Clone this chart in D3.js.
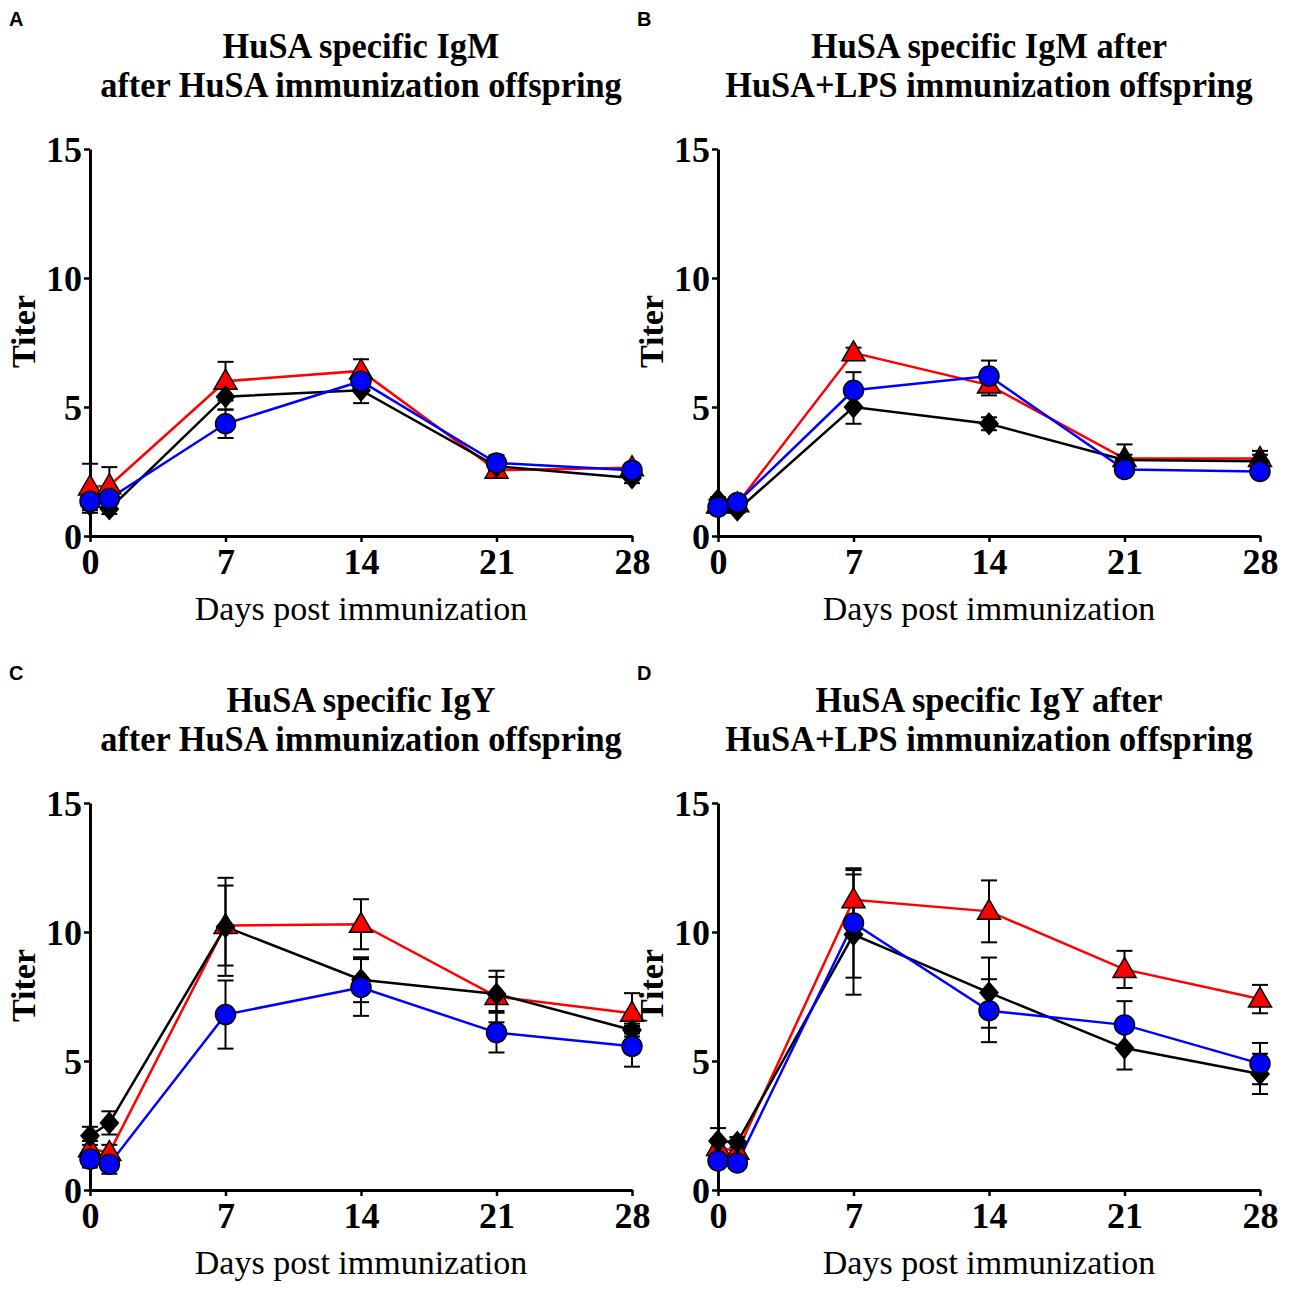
<!DOCTYPE html>
<html>
<head>
<meta charset="utf-8">
<script src="https://cdn.jsdelivr.net/npm/d3@7"></script>
<style>
  body { margin: 0; background: #fff; }
  svg { display: block; }
</style>
</head>
<body>
<div id="chart"></div>
<script>
// días de muestreo
const days = [0, 1, 7, 14, 21, 28];
const dayTicks = [0, 7, 14, 21, 28];
const titerTicks = [0, 5, 10, 15];

// Panel A: IgM, HuSA
const igmHusaRed = [1.9, 1.95, 6.0, 6.4, 2.55, 2.65];
const igmHusaRedErr = [0.9, 0.72, 0.75, 0.45, 0.3, 0.15];
const igmHusaBlack = [1.2, 1.05, 5.4, 5.65, 2.7, 2.25];
const igmHusaBlackErr = [0.3, 0.2, 0.5, 0.5, 0.3, 0.2];
const igmHusaBlue = [1.35, 1.45, 4.35, 6.0, 2.83, 2.55];
const igmHusaBlueErr = [0.2, 0.2, 0.55, 0.3, 0.3, 0.15];

// Panel B: IgM, HuSA+LPS
const igmLpsRed = [1.2, 1.25, 7.1, 5.85, 3.0, 3.0];
const igmLpsRedErr = [0.1, 0.1, 0.2, 0.4, 0.15, 0.15];
const igmLpsBlack = [1.4, 1.0, 5.0, 4.35, 2.95, 2.9];
const igmLpsBlackErr = [0.1, 0.1, 0.65, 0.25, 0.6, 0.4];
const igmLpsBlue = [1.12, 1.3, 5.65, 6.2, 2.58, 2.5];
const igmLpsBlueErr = [0.1, 0.1, 0.7, 0.6, 0.1, 0.1];

// Panel C: IgY, HuSA
const igyHusaRed = [1.6, 1.45, 10.25, 10.3, 7.5, 6.85];
const igyHusaRedErr = [0.3, 0.3, 1.55, 0.97, 1.0, 0.78];
const igyHusaBlack = [2.1, 2.6, 10.2, 8.15, 7.6, 6.2];
const igyHusaBlackErr = [0.35, 0.45, 1.9, 0.87, 0.66, 0.25];
const igyHusaBlue = [1.2, 1.0, 6.8, 7.85, 6.1, 5.57];
const igyHusaBlueErr = [0.33, 0.37, 1.32, 1.1, 0.77, 0.79];

// Panel D: IgY, HuSA+LPS
const igyLpsRed = [1.65, 1.5, 11.25, 10.8, 8.55, 7.4];
const igyLpsRedErr = [0.3, 0.3, 1.15, 1.2, 0.72, 0.55];
const igyLpsBlack = [1.9, 1.85, 9.9, 7.65, 5.5, 4.5];
const igyLpsBlackErr = [0.5, 0.2, 2.33, 1.36, 0.83, 0.78];
const igyLpsBlue = [1.13, 1.05, 10.35, 6.95, 6.4, 4.9];
const igyLpsBlueErr = [0.2, 0.15, 2.12, 1.22, 0.92, 0.8];

const panelLetters = ['A', 'B', 'C', 'D'];
const panelTitles = [
  ['HuSA specific IgM', 'after HuSA immunization offspring'],
  ['HuSA specific IgM after', 'HuSA+LPS immunization offspring'],
  ['HuSA specific IgY', 'after HuSA immunization offspring'],
  ['HuSA specific IgY after', 'HuSA+LPS immunization offspring']
];
const xLabel = 'Days post immunization';
const yLabel = 'Titer';

const panelSeries = [
  [[igmHusaRed, igmHusaRedErr], [igmHusaBlack, igmHusaBlackErr], [igmHusaBlue, igmHusaBlueErr]],
  [[igmLpsRed, igmLpsRedErr], [igmLpsBlack, igmLpsBlackErr], [igmLpsBlue, igmLpsBlueErr]],
  [[igyHusaRed, igyHusaRedErr], [igyHusaBlack, igyHusaBlackErr], [igyHusaBlue, igyHusaBlueErr]],
  [[igyLpsRed, igyLpsRedErr], [igyLpsBlack, igyLpsBlackErr], [igyLpsBlue, igyLpsBlueErr]]
];
// orden de dibujo: rojo, negro, azul (azul queda encima)
const seriesStyle = [
  { color: '#ff0000', shape: 'triangle' },
  { color: '#000000', shape: 'diamond' },
  { color: '#0000ff', shape: 'circle' }
];

const width = 1295;
const height = 1289;
const serif = '"Liberation Serif", "Times New Roman", serif';

const svg = d3.select('#chart').append('svg')
  .attr('width', width)
  .attr('height', height);

// posiciones de cada panel (origen del área de trazado)
const panels = [
  { left: 90, top: 149 },
  { left: 718, top: 149 },
  { left: 90, top: 803 },
  { left: 718, top: 803 }
];
const plotW = 542;
const plotH = 387;

function markerPath(shape) {
  if (shape === 'triangle') {
    return 'M0,-12L11.5,8L-11.5,8Z';
  }
  if (shape === 'diamond') {
    return 'M0,-10.5L9,0L0,10.5L-9,0Z';
  }
  return null;
}

function dibujarPanel(i) {
  const p = panels[i];
  const g = svg.append('g').attr('transform', `translate(${p.left},${p.top})`);

  const x = d3.scaleLinear().domain([0, 28]).range([0, plotW]);
  const y = d3.scaleLinear().domain([0, 15]).range([plotH, 0]);

  // letra del panel
  svg.append('text')
    .attr('x', p.left - 81)
    .attr('y', p.top - 123)
    .style('font-family', '"Liberation Sans", Arial, sans-serif')
    .style('font-weight', 'bold')
    .style('font-size', '20px')
    .text(panelLetters[i]);

  // título en dos líneas (letra algo estrecha, como en el original)
  panelTitles[i].forEach((line, k) => {
    g.append('text')
      .attr('transform', `translate(${plotW / 2},${-91 + k * 39}) scale(0.955,1)`)
      .attr('text-anchor', 'middle')
      .style('font-family', serif)
      .style('font-weight', 'bold')
      .style('font-size', '36px')
      .text(line);
  });

  // ejes
  const xAxis = g.append('g')
    .attr('transform', `translate(0,${plotH})`)
    .call(d3.axisBottom(x).tickValues(dayTicks).tickSize(6).tickSizeOuter(0).tickPadding(4));
  const yAxis = g.append('g')
    .call(d3.axisLeft(y).tickValues(titerTicks).tickSize(6).tickSizeOuter(0).tickPadding(2));

  [xAxis, yAxis].forEach(ax => {
    ax.select('.domain').attr('stroke', '#000').attr('stroke-width', 3);
    ax.selectAll('.tick line').attr('stroke', '#000').attr('stroke-width', 2.5);
    ax.selectAll('.tick text')
      .attr('fill', '#000')
      .style('font-family', serif)
      .style('font-weight', 'bold')
      .style('font-size', '36px');
  });
  yAxis.selectAll('.tick text').attr('dy', '0.34em');
  xAxis.selectAll('.tick text').attr('dy', '0.78em');

  // etiquetas de ejes
  g.append('text')
    .attr('x', plotW / 2)
    .attr('y', plotH + 84)
    .attr('text-anchor', 'middle')
    .style('font-family', serif)
    .style('font-size', '34px')
    .text(xLabel);

  g.append('text')
    .attr('transform', `translate(-55,${plotH / 2 - 11}) rotate(-90)`)
    .attr('text-anchor', 'middle')
    .style('font-family', serif)
    .style('font-weight', 'bold')
    .style('font-size', '34px')
    .text(yLabel);

  const line = d3.line()
    .x((d, j) => x(days[j]))
    .y(d => y(d));

  const series = panelSeries[i];

  // líneas
  series.forEach((s, k) => {
    g.append('path')
      .datum(s[0])
      .attr('d', line)
      .attr('fill', 'none')
      .attr('stroke', seriesStyle[k].color)
      .attr('stroke-width', 2.5);
  });

  // barras de error
  series.forEach((s, k) => {
    const vals = s[0];
    const errs = s[1];
    const eb = g.append('g').attr('stroke', '#000').attr('stroke-width', 2);
    vals.forEach((v, j) => {
      const cx = x(days[j]);
      const y1 = y(v + errs[j]);
      const y2 = y(v - errs[j]);
      eb.append('line').attr('x1', cx).attr('x2', cx).attr('y1', y1).attr('y2', y2);
      eb.append('line').attr('x1', cx - 8).attr('x2', cx + 8).attr('y1', y1).attr('y2', y1);
      eb.append('line').attr('x1', cx - 8).attr('x2', cx + 8).attr('y1', y2).attr('y2', y2);
    });
  });

  // marcadores
  series.forEach((s, k) => {
    const st = seriesStyle[k];
    const mk = g.append('g');
    s[0].forEach((v, j) => {
      if (st.shape === 'circle') {
        mk.append('circle')
          .attr('cx', x(days[j]))
          .attr('cy', y(v))
          .attr('r', 10)
          .attr('fill', st.color)
          .attr('stroke', '#000')
          .attr('stroke-width', 1.5);
      } else {
        mk.append('path')
          .attr('d', markerPath(st.shape))
          .attr('transform', `translate(${x(days[j])},${y(v)})`)
          .attr('fill', st.color)
          .attr('stroke', '#000')
          .attr('stroke-width', 1.5);
      }
    });
  });
}

for (let i = 0; i < 4; i++) {
  dibujarPanel(i);
}
</script>
</body>
</html>
